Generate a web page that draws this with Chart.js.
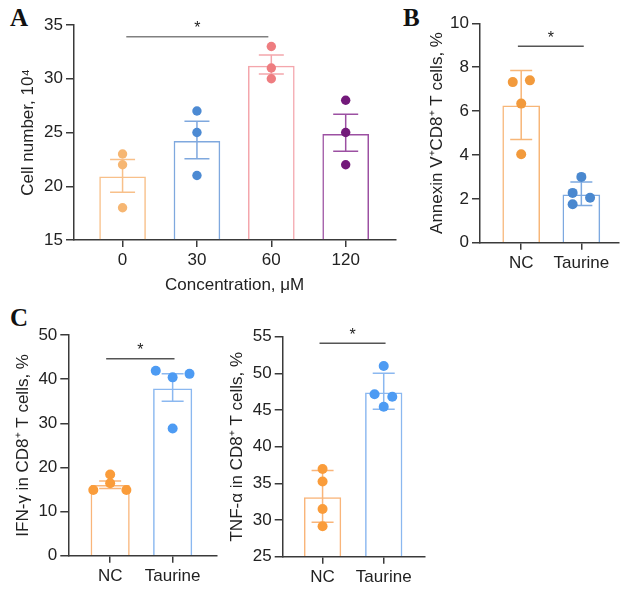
<!DOCTYPE html>
<html>
<head>
<meta charset="utf-8">
<script src="https://cdn.jsdelivr.net/npm/chart.js@4.4.0/dist/chart.umd.min.js"></script>
<style>
  body { margin: 0; background: #fff; width: 624px; height: 598px; position: relative; overflow: hidden; }
  canvas { position: absolute; }
  .tag { position: absolute; font-family: 'Liberation Serif', 'Times New Roman', serif; font-weight: bold; font-size: 25px; line-height: 1; color: #111; }
</style>
</head>
<body>
<div class="tag" style="left:10px;top:5px">A</div>
<div class="tag" style="left:403px;top:5px">B</div>
<div class="tag" style="left:10px;top:305px">C</div>
<canvas id="chartA" width="400" height="300" style="left:0;top:0"></canvas>
<canvas id="chartB" width="224" height="300" style="left:400px;top:0"></canvas>
<canvas id="chartC1" width="222" height="308" style="left:0;top:290px"></canvas>
<canvas id="chartC2" width="208" height="308" style="left:222px;top:290px"></canvas>
<script>
// panel A - cell number vs taurine concentration (mean +/- SEM)
const concLabels = ['0', '30', '60', '120']
const concMeans = [20.9, 24.2, 31.2, 24.85]
const concErrLow = [19.45, 22.55, 30.45, 23.25]
const concErrHigh = [22.5, 26.05, 32.2, 26.7]
const concDots = [[23, 22, 18], [27, 25, 21], [33, 31, 30], [28, 25, 22]]
const concSig = [0.05, 1.96, 33.9]

// panel B - Annexin V+ CD8+ T cells
const groupLabels = ['NC', 'Taurine']
const annexinMeans = [6.25, 2.2]
const annexinErrLow = [4.7, 1.7]
const annexinErrHigh = [7.85, 2.77]
const annexinDots = [[7.32, 7.4, 6.34, 4.03], [3.0, 2.27, 2.05, 1.75]]
const annexinJitter = [[-0.14, 0.145, 0, 0], [0, -0.145, 0.145, -0.145]]
const annexinSig = [-0.055, 1.04, 8.95]

// panel C - IFN-gamma and TNF-alpha
const ifnMeans = [16.0, 37.9]
const ifnErrLow = [15.2, 35.0]
const ifnErrHigh = [16.9, 41.2]
const ifnDots = [[18.4, 16.4, 14.9, 14.9], [41.9, 40.4, 41.2, 28.8]]
const ifnJitter = [[0, 0, -0.27, 0.26], [-0.27, 0, 0.27, 0]]
const ifnSig = [-0.064, 1.03, 44.6]

const tnfMeans = [33.1, 47.4]
const tnfErrLow = [29.7, 45.1]
const tnfErrHigh = [36.75, 50.0]
const tnfDots = [[36.95, 35.25, 31.5, 29.15], [51.0, 47.15, 46.8, 45.45]]
const tnfJitter = [[0, 0, 0, 0], [0, -0.15, 0.14, 0]]
const tnfSig = [-0.05, 1.03, 54.1]

const FONT = "'Liberation Sans', Arial, sans-serif"
const AXIS = '#3a3a3a'

function errorPlugin(o) {
  return {
    id: 'errorBars',
    afterDatasetDraw(chart, args) {
      if (args.meta.type !== 'bar') return
      const {ctx, scales: {x, y}} = chart
      ctx.save()
      ctx.lineWidth = 1.5
      o.low.forEach((lo, i) => {
        const px = x.getPixelForValue(i)
        const yLo = y.getPixelForValue(lo)
        const yHi = y.getPixelForValue(o.high[i])
        ctx.strokeStyle = o.colors[i]
        ctx.beginPath()
        ctx.moveTo(px, yLo); ctx.lineTo(px, yHi)
        ctx.moveTo(px - o.cap, yLo); ctx.lineTo(px + o.cap, yLo)
        ctx.moveTo(px - o.cap, yHi); ctx.lineTo(px + o.cap, yHi)
        ctx.stroke()
      })
      ctx.restore()
    },
    afterDraw(chart) {
      const {ctx, scales: {x, y}} = chart
      const [from, to, level] = o.sig
      const x1 = x.getPixelForValue(from)
      const x2 = x.getPixelForValue(to)
      const py = y.getPixelForValue(level)
      ctx.save()
      ctx.strokeStyle = o.sigColor
      ctx.lineWidth = 1.5
      ctx.beginPath()
      ctx.moveTo(x1, py); ctx.lineTo(x2, py)
      ctx.stroke()
      ctx.fillStyle = '#222'
      ctx.font = '16px ' + FONT
      ctx.textAlign = 'center'
      ctx.textBaseline = 'middle'
      ctx.fillText('*', (x1 + x2) / 2, py - 8)
      ctx.restore()
    }
  }
}

function drawPanel(id, o) {
  const bars = o.means.map((m, i) => ({x: i, y: m}))
  const dots = []
  const dotColors = []
  o.dots.forEach((list, i) => list.forEach((v, k) => {
    dots.push({x: i + (o.jitter ? o.jitter[i][k] : 0), y: v})
    dotColors.push(o.dotColors[i])
  }))

  return new Chart(document.getElementById(id), {
    type: 'bar',
    data: {
      datasets: [
        {
          type: 'scatter',
          data: dots,
          pointBackgroundColor: dotColors,
          pointBorderWidth: 0,
          pointRadius: o.radius,
          order: 0
        },
        {
          type: 'bar',
          data: bars,
          backgroundColor: 'rgba(255,255,255,0)',
          borderColor: o.barColors,
          borderWidth: 1.5,
          borderSkipped: 'start',
          base: o.yMin,
          barPercentage: 1,
          categoryPercentage: o.barPct,
          order: 1
        }
      ]
    },
    options: {
      responsive: false,
      animation: false,
      events: [],
      layout: { padding: { top: o.top, right: o.right || 0, left: 0, bottom: 0 } },
      plugins: { legend: { display: false }, tooltip: { enabled: false } },
      scales: {
        x: {
          type: 'linear',
          offset: false,
          min: o.xMin,
          max: o.xMax,
          afterBuildTicks: axis => { axis.ticks = o.labels.map((l, i) => ({value: i})) },
          afterFit: axis => { axis.height = o.xHeight },
          ticks: { callback: v => o.labels[v], color: '#222', font: { family: FONT, size: 17 }, padding: 3, maxRotation: 0, autoSkip: false },
          grid: { offset: false, drawOnChartArea: false, drawTicks: true, tickLength: 7, color: AXIS, lineWidth: 1.5 },
          border: { display: true, color: AXIS, width: 1.5 },
          title: o.xTitle ? { display: true, text: o.xTitle, color: '#222', font: { family: FONT, size: 17 }, padding: { top: 0, bottom: o.xTitlePad } } : { display: false }
        },
        y: {
          min: o.yMin,
          max: o.yMax,
          afterFit: axis => { axis.width = o.yWidth },
          ticks: { stepSize: o.yStep, color: '#222', font: { family: FONT, size: 17 }, padding: 3 },
          grid: { drawOnChartArea: false, drawTicks: true, tickLength: 8, color: AXIS, lineWidth: 1.5 },
          border: { display: true, color: AXIS, width: 1.5 },
          title: { display: true, text: o.yTitle, color: '#222', font: { family: FONT, size: 17 }, padding: { top: o.yTitlePad, bottom: 0 } }
        }
      }
    },
    plugins: [errorPlugin({ low: o.errLow, high: o.errHigh, colors: o.barColors, cap: o.cap, sig: o.sig, sigColor: o.sigColor })]
  })
}

drawPanel('chartA', {
  labels: concLabels, means: concMeans, errLow: concErrLow, errHigh: concErrHigh, dots: concDots, sig: concSig,
  barColors: ['#F8C08A', '#7FA8DE', '#F4A6AC', '#9C50A2'],
  dotColors: ['#F6B672', '#4C8AD3', '#EE7D80', '#73197A'],
  radius: 4.7, cap: 12.5, sigColor: '#808080', barPct: 0.627,
  xMin: -0.653, xMax: 3.667, yMin: 15, yMax: 35, yStep: 5,
  top: 25, right: 2, yWidth: 74, xHeight: 60,
  xTitle: 'Concentration, \u03bcM', xTitlePad: 4.8,
  yTitle: 'Cell number, 10\u2074', yTitlePad: 17.8
})

drawPanel('chartB', {
  labels: groupLabels, means: annexinMeans, errLow: annexinErrLow, errHigh: annexinErrHigh, dots: annexinDots, jitter: annexinJitter, sig: annexinSig,
  barColors: ['#F7B678', '#7DA9E0'],
  dotColors: ['#F29A3C', '#4A88CF'],
  radius: 5, cap: 11, sigColor: '#555', barPct: 0.626,
  xMin: -0.685, xMax: 1.626, yMin: 0, yMax: 10, yStep: 2,
  top: 23.3, yWidth: 80, xHeight: 57.3,
  yTitle: 'Annexin V\u207aCD8\u207a T cells, %', yTitlePad: 26.8
})

drawPanel('chartC1', {
  labels: groupLabels, means: ifnMeans, errLow: ifnErrLow, errHigh: ifnErrHigh, dots: ifnDots, jitter: ifnJitter, sig: ifnSig,
  barColors: ['#F9B57A', '#8BB8F0'],
  dotColors: ['#FA9C3A', '#4D9BF3'],
  radius: 5, cap: 11, sigColor: '#555', barPct: 0.626,
  xMin: -0.67, xMax: 1.71, yMin: 0, yMax: 50, yStep: 10,
  top: 45, yWidth: 68.3, xHeight: 42.3,
  yTitle: 'IFN-\u03b3 in CD8\u207a T cells, %', yTitlePad: 12.8
})

drawPanel('chartC2', {
  labels: groupLabels, means: tnfMeans, errLow: tnfErrLow, errHigh: tnfErrHigh, dots: tnfDots, jitter: tnfJitter, sig: tnfSig,
  barColors: ['#F9B57A', '#8BB8F0'],
  dotColors: ['#FA9C3A', '#4D9BF3'],
  radius: 5, cap: 11, sigColor: '#555', barPct: 0.61,
  xMin: -0.652, xMax: 1.675, yMin: 25, yMax: 55, yStep: 5,
  top: 46.7, yWidth: 60.7, xHeight: 41.3,
  yTitle: 'TNF-\u03b1 in CD8\u207a T cells, %', yTitlePad: 5.3
})
</script>
</body>
</html>
